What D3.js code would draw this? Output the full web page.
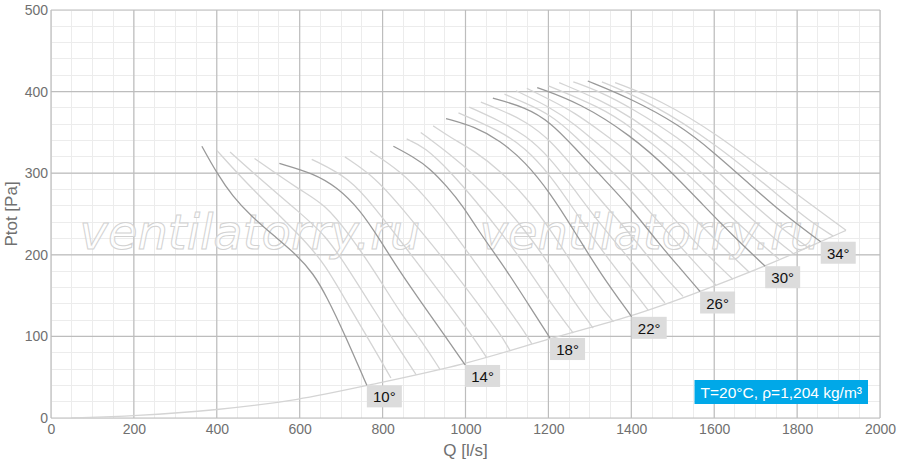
<!DOCTYPE html>
<html><head><meta charset="utf-8">
<script src="https://cdn.jsdelivr.net/npm/d3@7"></script>
<style>
body{margin:0;background:#fff}
svg{display:block}
text{font-family:"Liberation Sans",Arial,sans-serif}
</style>
</head><body>
<svg id="chart" width="900" height="466"></svg>
<script>
// ---- data ----
const xTickValues = [0,200,400,600,800,1000,1200,1400,1600,1800,2000];
const yTickValues = [0,100,200,300,400,500];
const xTitle = "Q [l/s]";
const yTitle = "Ptot [Pa]";
const infoText = "T=20°C, ρ=1,204 kg/m³";
const watermark = "ventilatorry.ru";

const angles = [10,11,12,13,14,15,16,17,18,19,20,21,22,23,24,25,26,27,28,29,30,31,32,33,34,35,36];
const labeledAngles = [10,14,18,22,26,30,34];

const c10 = [[364,333],[400,300],[439,271],[480,249],[536,224],[593,200],[633,177],[665,149],[709,102],[762,40]];
const c11 = [[400,328],[480,283],[601,224],[661,189],[721,135],[782,83],[820,49]];
const c12 = [[432,326],[480,304],[601,251],[661,225],[721,180],[782,130],[842,83],[881,53]];
const c13 = [[491,318],[601,279],[661,262],[721,224],[782,179],[842,129],[902,89],[939,59]];
const c14 = [[551,312],[632,300],[690,283],[746,255],[794,218],[842,179],[893,142],[946,104],[999,65]];
const c15 = [[629,317],[721,294],[782,257],[842,218],[902,178],[963,137],[1023,96],[1051,74]];
const c16 = [[709,320],[782,295],[842,260],[902,223],[963,185],[1023,145],[1083,104],[1107,83]];
const c17 = [[770,327],[842,303],[902,272],[963,233],[1023,191],[1083,148],[1131,114],[1160,91]];
const c18 = [[826,333],[874,320],[914,306],[955,284],[995,259],[1027,233],[1064,206],[1099,181],[1156,136],[1204,98]];
const c19 = [[858,342],[902,332],[963,302],[1023,267],[1083,229],[1144,188],[1204,142],[1260,104]];
const c20 = [[892,350],[963,323],[1023,297],[1083,266],[1144,230],[1204,187],[1264,141],[1308,110]];
const c21 = [[922,358],[963,344],[1023,327],[1083,303],[1144,272],[1204,232],[1264,184],[1324,137],[1357,118]];
const c22 = [[953,367],[1023,357],[1083,340],[1144,314],[1204,276],[1264,228],[1324,178],[1401,124]];
const c23 = [[983,374],[1083,352],[1144,331],[1204,298],[1264,254],[1324,208],[1397,161],[1441,132]];
const c24 = [[1009,381],[1083,364],[1144,347],[1204,319],[1264,279],[1324,238],[1397,194],[1481,141]];
const c25 = [[1037,387],[1083,378],[1144,364],[1204,341],[1264,305],[1324,268],[1397,226],[1469,179],[1525,149]];
const c26 = [[1066,392],[1144,381],[1204,363],[1264,331],[1324,298],[1397,259],[1469,212],[1517,184],[1566,155]];
const c27 = [[1094,397],[1144,386],[1204,372],[1264,346],[1324,316],[1397,281],[1469,238],[1566,183],[1604,163]];
const c28 = [[1122,401],[1204,381],[1264,360],[1324,334],[1397,303],[1469,264],[1566,208],[1645,170]];
const c29 = [[1148,404],[1204,390],[1264,374],[1324,352],[1397,325],[1469,289],[1566,237],[1638,201],[1684,179]];
const c30 = [[1173,405],[1276,386],[1397,347],[1493,304],[1573,261],[1650,221],[1723,186]];
const c31 = [[1200,407],[1324,381],[1397,358],[1517,309],[1597,268],[1679,228],[1756,195]];
const c32 = [[1226,411],[1324,390],[1397,370],[1517,326],[1597,287],[1679,249],[1759,214],[1790,202]];
const c33 = [[1260,412],[1324,400],[1397,381],[1517,343],[1597,307],[1679,269],[1759,233],[1824,210]];
const c34 = [[1295,413],[1397,392],[1517,359],[1598,326],[1678,290],[1759,253],[1857,216]];
const c35 = [[1329,412],[1445,387],[1602,337],[1759,271],[1831,241],[1887,223]];
const c36 = [[1361,411],[1469,390],[1604,349],[1759,289],[1918,230]];

const boundary = [[50,0],[200,2.5],[400,9.5],[600,22],[762,40],[999,65],[1204,98],[1401,124],[1566,155],[1723,186],[1857,216],[1918,230]];

const curves = [c10,c11,c12,c13,c14,c15,c16,c17,c18,c19,c20,c21,c22,c23,c24,c25,c26,c27,c28,c29,c30,c31,c32,c33,c34,c35,c36];

// ---- drawing ----
const svg = d3.select("#chart");
const W = 900, H = 466;
const m = {left:51, right:20, top:10, bottom:48};
const x = d3.scaleLinear().domain([0,2000]).range([m.left, W - m.right]);
const y = d3.scaleLinear().domain([0,500]).range([H - m.bottom, m.top]);

const gGrid = svg.append("g");
gGrid.selectAll("line.mx").data(d3.range(0,2001,50)).join("line")
  .attr("x1", d=>x(d)).attr("x2", d=>x(d)).attr("y1", y(0)).attr("y2", y(500))
  .attr("stroke","#ececec").attr("stroke-width",1).attr("shape-rendering","crispEdges");
gGrid.selectAll("line.my").data(d3.range(0,501,20)).join("line")
  .attr("y1", d=>y(d)).attr("y2", d=>y(d)).attr("x1", x(0)).attr("x2", x(2000))
  .attr("stroke","#ececec").attr("stroke-width",1).attr("shape-rendering","crispEdges");
gGrid.selectAll("line.Mx").data(xTickValues).join("line")
  .attr("x1", d=>x(d)).attr("x2", d=>x(d)).attr("y1", y(0)).attr("y2", y(500))
  .attr("stroke","#bdbdbd").attr("stroke-width",1.2);
gGrid.selectAll("line.My").data(yTickValues).join("line")
  .attr("y1", d=>y(d)).attr("y2", d=>y(d)).attr("x1", x(0)).attr("x2", x(2000))
  .attr("stroke","#bdbdbd").attr("stroke-width",1.2);

// watermark
[250, 650].forEach(cx => {
  svg.append("text").attr("x", cx).attr("y", 248.5)
    .attr("text-anchor","middle")
    .style("font-family","'DejaVu Sans', sans-serif")
    .style("font-style","oblique")
    .style("font-size","48px")
    .attr("fill","#fff").attr("fill-opacity",0.6)
    .attr("stroke","#d2d2d2").attr("stroke-width",1)
    .text(watermark);
});

const line = d3.line().x(d=>x(d[0])).y(d=>y(d[1])).curve(d3.curveBasis);

svg.append("path").attr("d", line(boundary)).attr("fill","none")
  .attr("stroke","#d4d4d4").attr("stroke-width",1.3);

curves.forEach((c,i)=>{
  if (labeledAngles.includes(angles[i])) return;
  svg.append("path").attr("d", line(c)).attr("fill","none")
    .attr("stroke","#d4d4d4").attr("stroke-width",1.3);
});
curves.forEach((c,i)=>{
  if (!labeledAngles.includes(angles[i])) return;
  svg.append("path").attr("d", line(c)).attr("fill","none")
    .attr("stroke","#999").attr("stroke-width",1.3);
});

curves.forEach((c,i)=>{
  if (!labeledAngles.includes(angles[i])) return;
  const e = c[c.length-1];
  const px = x(e[0]), py = y(e[1]);
  const g = svg.append("g").attr("transform",`translate(${px},${py})`);
  g.append("rect").attr("width",35).attr("height",22).attr("fill","#dcdcdc");
  g.append("text").attr("x",17.5).attr("y",17).attr("text-anchor","middle")
    .style("font-size","15px").attr("fill","#111").text(angles[i] + "°");
});

const xAxis = svg.append("g").attr("transform",`translate(0,${y(0)})`)
  .call(d3.axisBottom(x).tickValues(xTickValues).tickSize(0).tickPadding(6).tickFormat(d3.format("d")));
xAxis.select(".domain").remove();
xAxis.selectAll("text").style("font-size","14px").attr("fill","#707070")
  .style("font-family","'Liberation Sans',Arial,sans-serif");
const yAxis = svg.append("g").attr("transform",`translate(${x(0)},0)`)
  .call(d3.axisLeft(y).tickValues(yTickValues).tickSize(0).tickPadding(3).tickFormat(d3.format("d")));
yAxis.select(".domain").remove();
yAxis.selectAll("text").style("font-size","14px").attr("fill","#707070")
  .style("font-family","'Liberation Sans',Arial,sans-serif");

svg.append("text").attr("x",(x(0)+x(2000))/2).attr("y",456).attr("text-anchor","middle")
  .style("font-size","17px").attr("fill","#707070").text(xTitle);
svg.append("text").attr("transform",`translate(17,${(y(0)+y(500))/2}) rotate(-90)`)
  .attr("text-anchor","middle").style("font-size","17px").attr("fill","#707070").text(yTitle);

const info = svg.append("g");
const it = info.append("text").attr("x",0).attr("y",0).style("font-size","15.5px").attr("fill","#fff").text(infoText);
const bb = it.node().getBBox();
const bw = bb.width + 12, bh = 24;
const bx = x(2000) - 12 - bw, by = y(0) - 14 - bh;
info.insert("rect","text").attr("x",bx).attr("y",by).attr("width",bw).attr("height",bh).attr("fill","#00a8e8");
it.attr("x", bx+6).attr("y", by+17.5);
</script>
</body></html>
